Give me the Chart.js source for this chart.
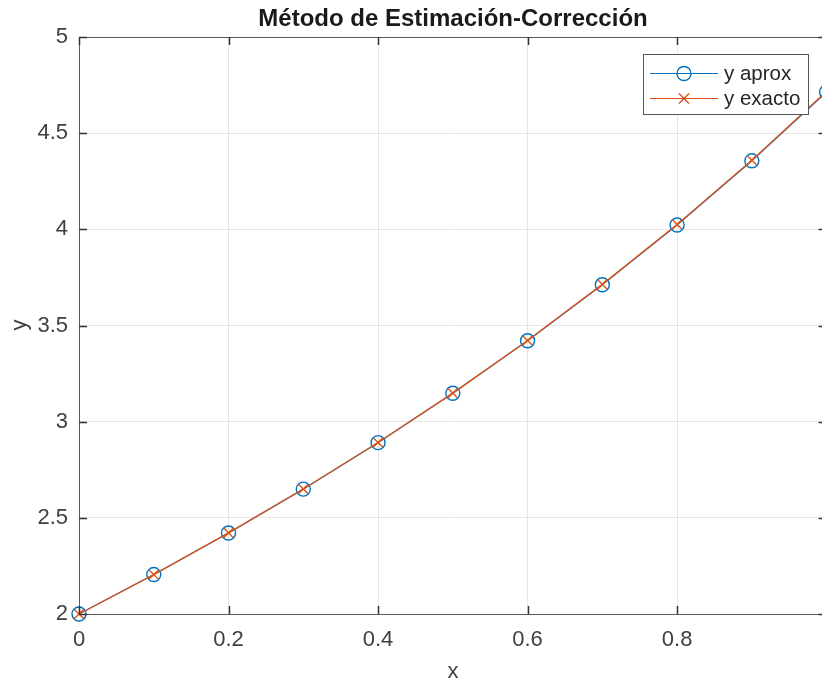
<!DOCTYPE html>
<html>
<head>
<meta charset="utf-8">
<script src="https://cdn.jsdelivr.net/npm/chart.js@4"></script>
<style>
  html, body { margin: 0; padding: 0; background: #fff; }
  #wrap { width: 822px; height: 684px; overflow: hidden; position: relative; }
  canvas { position: absolute; left: 0; top: 0; }
</style>
</head>
<body>
<div id="wrap"><canvas id="grafico" width="835" height="684"></canvas></div>
<script>
// datos
const xVals = [0, 0.1, 0.2, 0.3, 0.4, 0.5, 0.6, 0.7, 0.8, 0.9, 1.0];
const yAprox = [2.0, 2.205, 2.421, 2.6492, 2.8909, 3.1474, 3.4204, 3.7116, 4.0228, 4.3562, 4.7141];
const yExacto = [2.0, 2.2052, 2.4214, 2.6499, 2.8918, 3.1487, 3.4221, 3.7138, 4.0255, 4.3596, 4.7183];
const xTicks = [0, 0.2, 0.4, 0.6, 0.8];
const yTicks = [2, 2.5, 3, 3.5, 4, 4.5, 5];

const FONT = "'Liberation Sans', Arial, Helvetica, sans-serif";
const AZUL = '#0072BD';
const NARANJA = '#D95319';
const GRIS_TXT = '#404040';

// titulo, marco, ticks hacia dentro y leyenda estilo MATLAB
const decoMatlab = {
  id: 'decoMatlab',
  afterDraw(chart) {
    const ctx = chart.ctx;
    const a = chart.chartArea;
    const sx = chart.scales.x, sy = chart.scales.y;
    ctx.save();

    // marco
    ctx.strokeStyle = '#5a5a5a';
    ctx.lineWidth = 1;
    ctx.strokeRect(Math.round(a.left) + 0.5, Math.round(a.top) + 0.5,
      Math.round(a.right - a.left), Math.round(a.bottom - a.top));

    // ticks
    ctx.strokeStyle = '#333';
    ctx.beginPath();
    xTicks.forEach(v => {
      const px = Math.round(sx.getPixelForValue(v)) + 0.5;
      ctx.moveTo(px, a.bottom); ctx.lineTo(px, a.bottom - 8);
      ctx.moveTo(px, a.top); ctx.lineTo(px, a.top + 8);
    });
    yTicks.forEach(v => {
      const py = Math.round(sy.getPixelForValue(v)) + 0.5;
      ctx.moveTo(a.left, py); ctx.lineTo(a.left + 8, py);
      ctx.moveTo(a.right, py); ctx.lineTo(a.right - 8, py);
    });
    ctx.lineWidth = 1.5;
    ctx.stroke();

    // titulo
    ctx.fillStyle = '#1a1a1a';
    ctx.font = 'bold 24px ' + FONT;
    ctx.textAlign = 'center';
    ctx.textBaseline = 'middle';
    ctx.fillText('Método de Estimación-Corrección', 453, 19);

    // etiquetas de ejes
    ctx.fillStyle = GRIS_TXT;
    ctx.font = '22px ' + FONT;
    ctx.fillText('x', 453, 672);
    ctx.save();
    ctx.translate(20, 325);
    ctx.rotate(-Math.PI / 2);
    ctx.fillText('y', 0, 0);
    ctx.restore();

    // leyenda
    const lx = 643, ly = 54, lw = 165, lh = 60;
    ctx.fillStyle = '#fff';
    ctx.fillRect(lx, ly, lw, lh);
    ctx.strokeStyle = '#555';
    ctx.lineWidth = 1;
    ctx.strokeRect(lx + 0.5, ly + 0.5, lw, lh);
    const filas = [
      { txt: 'y aprox', color: AZUL, marca: 'circulo', y: 73 },
      { txt: 'y exacto', color: NARANJA, marca: 'cruz', y: 98 }
    ];
    filas.forEach(f => {
      ctx.strokeStyle = f.color;
      ctx.lineWidth = 1.2;
      ctx.beginPath();
      ctx.moveTo(650, f.y + 0.5); ctx.lineTo(718, f.y + 0.5);
      ctx.stroke();
      ctx.beginPath();
      if (f.marca === 'circulo') {
        ctx.arc(684, f.y + 0.5, 7, 0, Math.PI * 2);
      } else {
        ctx.moveTo(679, f.y - 4.5); ctx.lineTo(689, f.y + 5.5);
        ctx.moveTo(689, f.y - 4.5); ctx.lineTo(679, f.y + 5.5);
      }
      ctx.lineWidth = 1.4;
      ctx.stroke();
      ctx.fillStyle = '#262626';
      ctx.font = '20.5px ' + FONT;
      ctx.textAlign = 'left';
      ctx.fillText(f.txt, 724, f.y + 1);
    });

    ctx.restore();
  }
};

const ctx = document.getElementById('grafico').getContext('2d');
const chart = new Chart(ctx, {
  type: 'line',
  data: {
    labels: xVals,
    datasets: [
      {
        label: 'y aprox',
        data: xVals.map((x, i) => ({ x: x, y: yAprox[i] })),
        borderColor: AZUL,
        borderWidth: 1.2,
        pointStyle: 'circle',
        pointRadius: 7,
        pointBorderWidth: 1.4,
        pointBorderColor: AZUL,
        pointBackgroundColor: 'rgba(0,0,0,0)',
        tension: 0,
        clip: false,
        order: 1
      },
      {
        label: 'y exacto',
        data: xVals.map((x, i) => ({ x: x, y: yExacto[i] })),
        borderColor: NARANJA,
        borderWidth: 1.4,
        pointStyle: 'crossRot',
        pointRadius: 6.5,
        pointBorderWidth: 1.4,
        pointBorderColor: NARANJA,
        tension: 0,
        clip: false,
        order: 0
      }
    ]
  },
  options: {
    responsive: false,
    animation: false,
    devicePixelRatio: 1,
    layout: { padding: { top: 37, right: 6, left: 0, bottom: 0 } },
    plugins: {
      legend: { display: false },
      title: { display: false },
      tooltip: { enabled: false }
    },
    scales: {
      x: {
        type: 'linear',
        min: 0,
        max: 1,
        afterBuildTicks: s => { s.ticks = xTicks.map(v => ({ value: v })); },
        afterFit: s => { s.height = 70; },
        border: { display: false },
        grid: { color: '#e6e6e6', lineWidth: 1, drawTicks: false },
        ticks: {
          padding: 13,
          color: GRIS_TXT,
          font: { family: FONT, size: 22 },
          maxRotation: 0,
          callback: v => String(v)
        }
      },
      y: {
        min: 2,
        max: 5,
        afterBuildTicks: s => { s.ticks = yTicks.map(v => ({ value: v })); },
        afterFit: s => { s.width = 79; },
        border: { display: false },
        grid: { color: '#e6e6e6', lineWidth: 1, drawTicks: false },
        ticks: {
          padding: 11,
          color: GRIS_TXT,
          font: { family: FONT, size: 22 },
          callback: v => String(v)
        }
      }
    }
  },
  plugins: [decoMatlab]
});
</script>
</body>
</html>
